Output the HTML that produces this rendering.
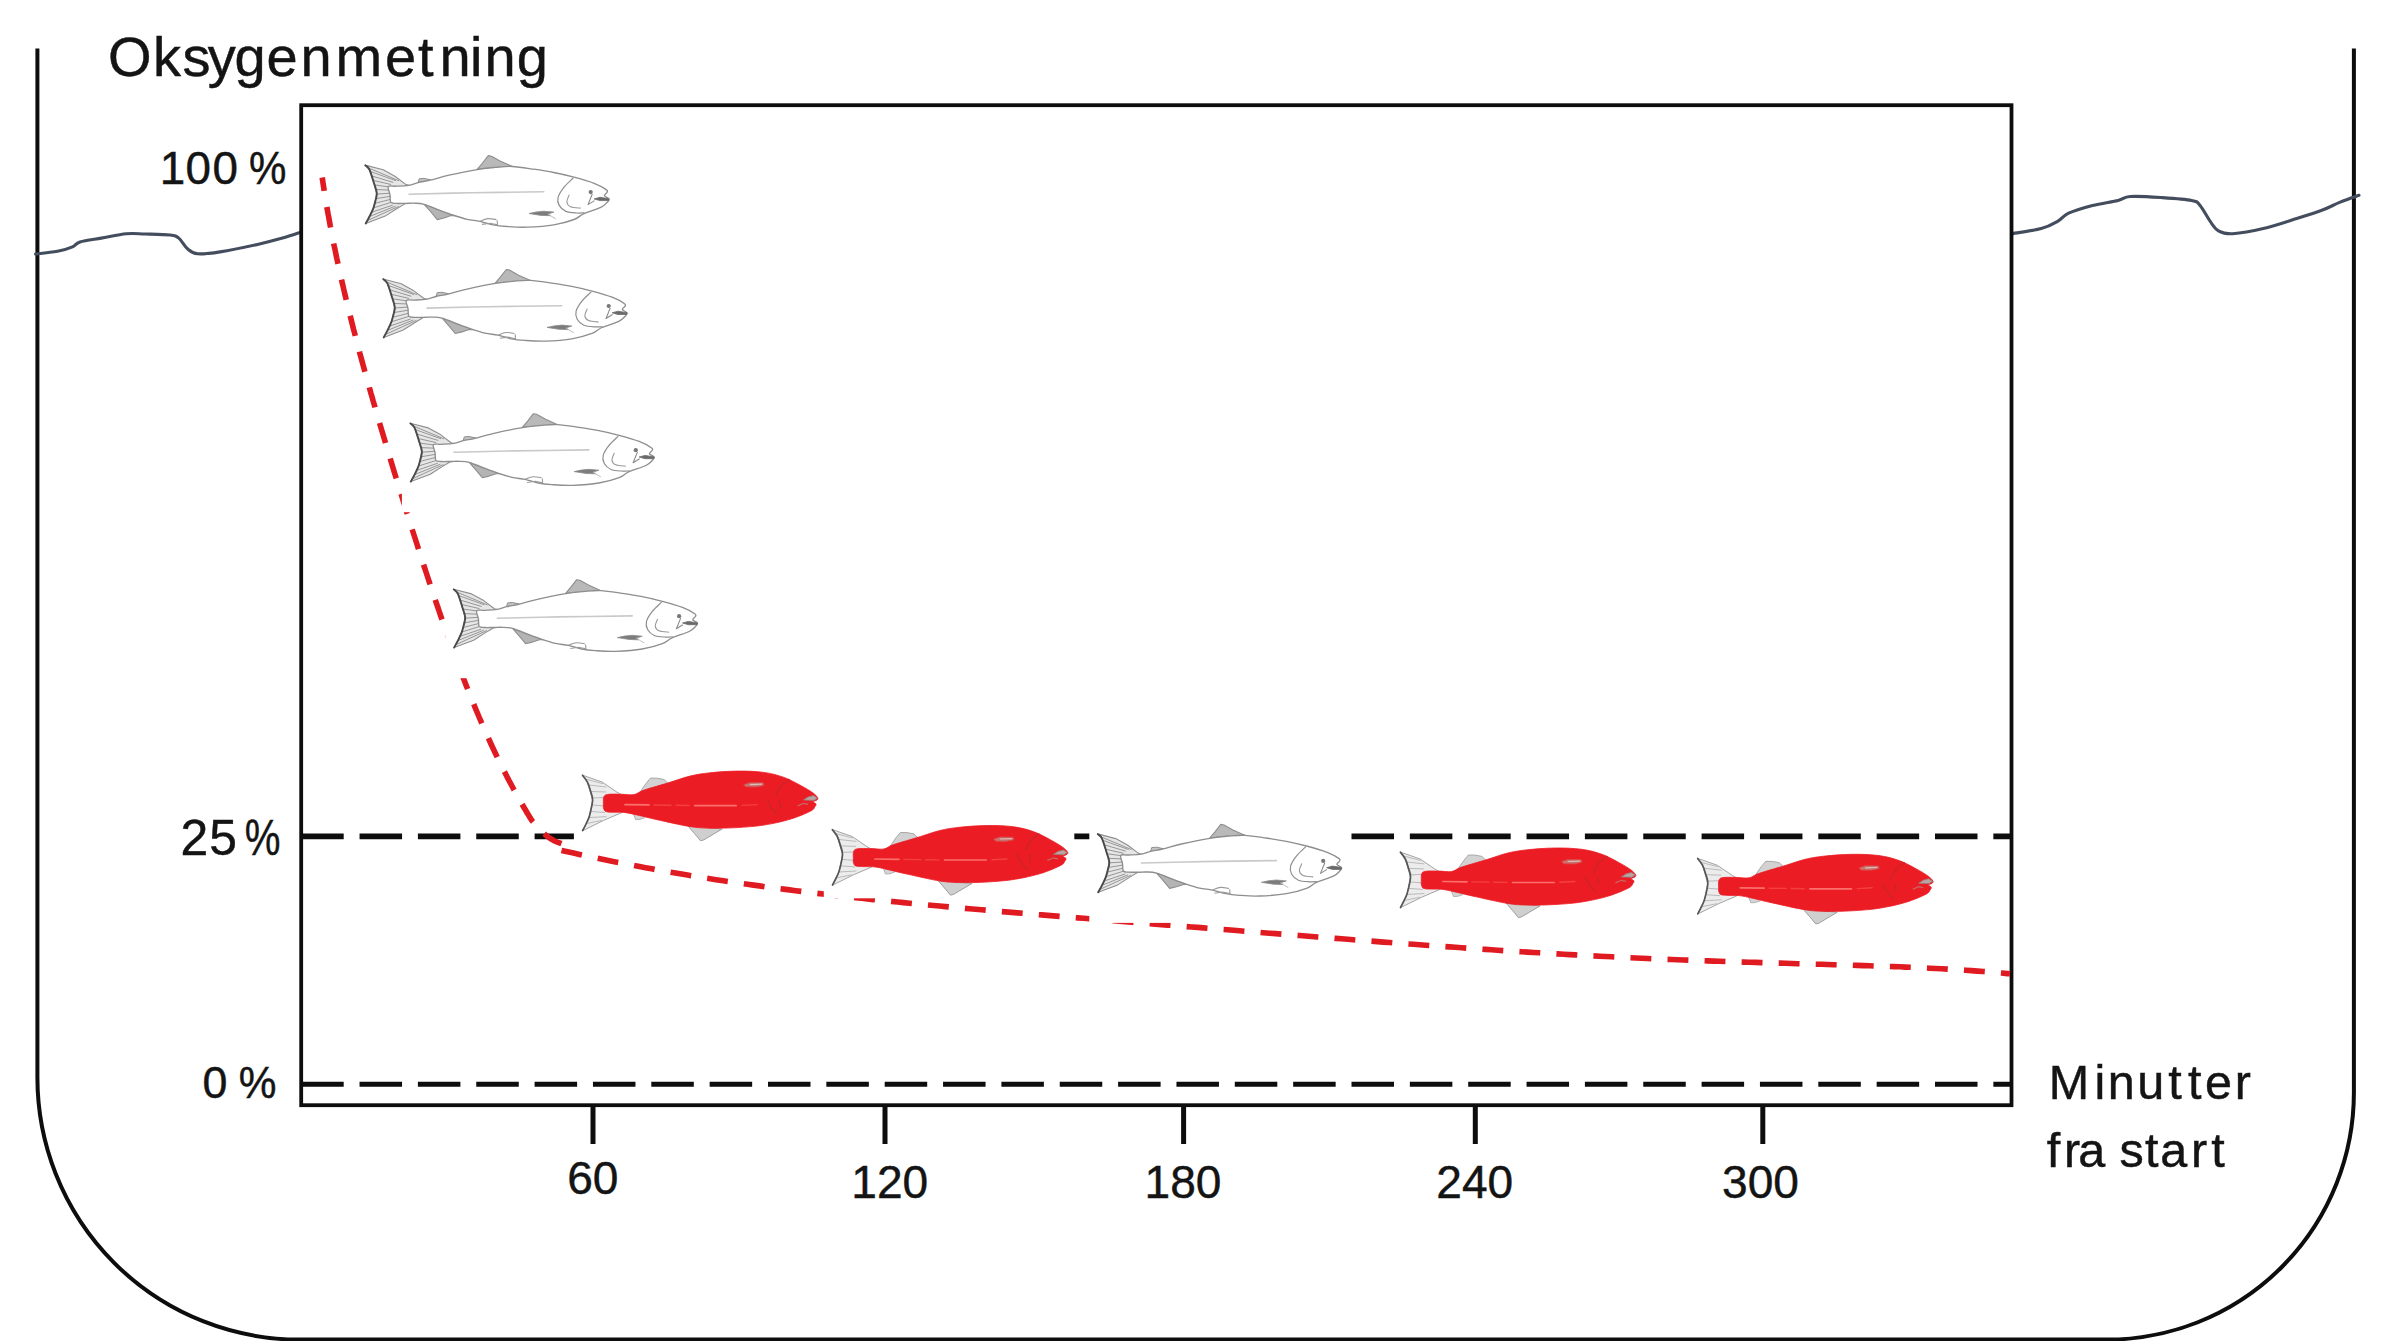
<!DOCTYPE html>
<html lang="nb">
<head>
<meta charset="utf-8">
<title>Oksygenmetning</title>
<style>
html,body{margin:0;padding:0;background:#fff;}
body{width:2400px;height:1341px;overflow:hidden;}
svg{display:block;}
text{font-family:"Liberation Sans",sans-serif;fill:#141414;stroke:#141414;stroke-width:0.45px;}
</style>
</head>
<body>
<svg width="2400" height="1341" viewBox="0 0 2400 1341">
<defs>
<g id="fo">
 <path d="M0.0,0.0L18.1,4.7L30.2,11.4L40.9,19.5L43.9,20.3L43.9,38.3L40.2,38.5L31.5,43.7L20.1,51.0L0.6,58.4L4.9,50.4L8.0,43.7L10.0,36.9L11.5,28.2L8.7,17.5L4.3,4.4Z" fill="#e6e6e6" stroke="#8e8e8e" stroke-width="1.1" stroke-linejoin="round"/>
 <path d="M2.4,2.5L33.9,15.7 M4.9,6.3L30.9,15.6 M6.5,10.8L28.2,17.3 M8.0,15.3L26.0,19.4 M9.4,19.8L24.3,21.9 M10.6,24.4L24.6,25.0 M11.5,29.0L24.8,28.1 M10.6,33.6L25.1,31.2 M9.6,38.3L25.3,34.3 M8.3,42.8L25.9,37.3 M6.4,47.2L27.6,40.0 M4.3,51.4L30.3,41.0 M2.1,55.6L33.4,41.3" fill="none" stroke="#8c8c8c" stroke-width="0.9"/>
 <path d="M0.2,0.2C0.9,0.9 2.9,1.5 4.3,4.4C5.7,7.3 7.5,13.5 8.7,17.5C9.9,21.5 11.5,25.0 11.7,28.2C11.9,31.4 10.6,34.3 10.0,36.9C9.4,39.5 8.9,41.5 8.0,43.7C7.1,46.0 6.1,48.0 4.9,50.4C3.7,52.9 1.3,57.1 0.6,58.4" fill="none" stroke="#4a4a4a" stroke-width="1.9" stroke-linecap="round"/>
 <path d="M112.1,4.2L117.4,-2.1L123.2,-9.5L126.4,-8.9L134.9,-4.1L147.5,1.5L129.9,2.5Z" fill="#b9b9b9" stroke="#8e8e8e" stroke-width="1.1" stroke-linejoin="round"/>
 <path d="M53.0,17.5L54.1,13.7L58.9,13.3L65.7,14.8L60.9,16.1Z" fill="#c4c4c4" stroke="#8e8e8e" stroke-width="1" stroke-linejoin="round"/>
 <path d="M59.0,39.2L65.4,46.4L72.1,54.5L78.9,52.9L85.9,50.5L90.2,50.6L74.9,45.2Z" fill="#b4b4b4" stroke="#8e8e8e" stroke-width="1.1" stroke-linejoin="round"/>
 <path d="M23.2,21.5C24.2,20.1 27.5,21.3 30.9,21.1C34.3,20.9 39.9,20.8 43.6,20.2C47.3,19.6 49.4,18.4 53.0,17.5C56.6,16.6 59.7,16.3 64.9,15.1C70.0,13.9 76.3,11.8 83.9,10.1C91.5,8.4 103.0,6.0 110.7,4.7C118.4,3.4 123.8,2.9 129.9,2.3C136.0,1.8 140.7,1.1 147.1,1.4C153.6,1.7 161.7,3.1 168.6,4.1C175.5,5.1 182.0,6.1 188.7,7.4C195.4,8.7 202.2,10.3 208.9,12.1C215.6,13.9 223.6,16.1 229.0,18.2C234.4,20.3 239.0,23.0 241.1,24.5C243.3,26.0 242.2,26.2 241.9,27.2C241.6,28.2 239.0,29.4 239.3,30.5C239.6,31.6 243.4,32.8 243.9,33.9C244.4,35.0 243.8,35.5 242.4,36.9C241.0,38.3 239.6,40.4 235.7,42.3C231.8,44.2 223.4,46.5 218.9,48.5C214.4,50.5 213.9,52.5 208.9,54.4C203.9,56.3 196.5,58.5 188.7,59.8C180.9,61.1 169.7,61.8 161.9,62.1C154.1,62.4 147.3,61.8 141.7,61.4C136.1,61.0 132.8,60.7 128.3,59.8C123.8,58.9 119.3,57.1 114.9,56.2C110.5,55.3 106.2,55.2 101.9,54.2C97.6,53.2 93.7,51.9 89.2,50.4C84.7,48.9 79.9,47.1 74.9,45.2C69.9,43.3 63.3,40.4 59.0,39.2C54.7,38.0 52.0,38.2 48.9,38.1C45.8,37.9 43.2,38.3 40.2,38.3C37.2,38.3 33.3,38.5 30.9,38.3C28.5,38.1 26.7,38.5 25.7,37.1C24.7,35.6 25.3,32.2 24.9,29.6C24.5,27.0 22.2,22.9 23.2,21.5Z" fill="#fff" stroke="#8e8e8e" stroke-width="1.35" stroke-linejoin="round"/>
 <path d="M43.9,29.1C54.1,28.9 82.4,28.1 104.9,27.7C127.4,27.3 166.4,26.9 178.7,26.7" fill="none" stroke="#c9c9c9" stroke-width="1.6" stroke-linecap="round"/>
 <path d="M208.1,12.9C206.6,14.5 201.3,19.0 198.8,22.2C196.3,25.4 193.8,29.2 193.0,32.2C192.2,35.2 192.8,38.0 194.1,40.3C195.4,42.7 197.8,45.0 200.8,46.3C203.8,47.6 209.1,47.7 212.2,47.9C215.3,48.1 218.2,47.7 219.4,47.7" fill="none" stroke="#8e8e8e" stroke-width="1.2"/>
 <path d="M204.2,29.6C203.8,30.8 201.6,34.9 201.8,36.9C202.0,38.9 203.2,40.6 205.5,41.6C207.8,42.6 213.9,42.8 215.6,43.0" fill="none" stroke="#9a9a9a" stroke-width="1.1"/>
 <path d="M227.2,28.9L222.9,39.5L229.4,35.5" fill="none" stroke="#8a8a8a" stroke-width="1.1" stroke-linejoin="round"/>
 <path d="M229.0,33.8L234.9,32.2L243.9,33.7L243.5,35.5L234.9,35.5Z" fill="#6a6a6a" stroke="#6a6a6a" stroke-width="0.8" stroke-linejoin="round"/>
 <circle cx="225.6" cy="27.0" r="2.1" fill="#777"/>
 <path d="M163.9,48.4L170.9,46.9L178.7,46.1L188.7,47.0L182.9,48.9L185.4,50.6L175.9,50.3Z" fill="#7c7c7c" stroke="#8a8a8a" stroke-width="0.8" stroke-linejoin="round"/>
 <path d="M182.9,48.9L186.9,51.5L190.7,53.7" fill="none" stroke="#bdbdbd" stroke-width="1"/>
 <path d="M115.4,55.9C116.6,55.5 120.2,53.7 122.9,53.5C125.6,53.3 130.0,54.3 131.4,54.5 M116.9,59.3L124.9,58.1L132.4,59.7L132.1,55.3" fill="none" stroke="#9a9a9a" stroke-width="1.1"/>
</g>

<g id="fr">
 <path d="M0.0,0.0L19.9,7.0L34.7,17.1L39.7,19.9L39.7,37.4L21.3,45.3L0.2,55.7L4.2,47.9L7.2,40.6L10.3,25.2L5.1,7.0Z" fill="#ececec" stroke="#a4a4a4" stroke-width="1" stroke-linejoin="round"/>
 <path d="M2.9,3.9L20.7,8.5 M5.9,9.9L24.2,11.9 M8.1,16.4L23.7,16.9 M9.9,22.9L22.1,22.4 M9.9,29.9L21.7,30.9 M8.3,36.4L22.7,37.4 M6.3,42.5L24.2,41.5 M3.7,48.5L19.7,45.3" fill="none" stroke="#b4b4b4" stroke-width="0.9"/>
 <path d="M0.2,0.2C1.0,1.3 3.8,4.4 5.1,7.0C6.4,9.6 7.3,12.9 8.2,15.9C9.1,18.9 10.5,21.1 10.3,25.2C10.1,29.3 8.2,36.8 7.2,40.6C6.2,44.4 5.4,45.4 4.2,47.9C3.1,50.4 1.0,54.2 0.3,55.5" fill="none" stroke="#555" stroke-width="1.7" stroke-linecap="round"/>
 <path d="M58.2,16.4L63.7,8.4L68.2,3.0L74.7,3.1L81.7,4.4L86.0,8.5Z" fill="#d2d2d2" stroke="#a8a8a8" stroke-width="1" stroke-linejoin="round"/>
 <path d="M105.7,50.9L112.2,58.4L118.3,65.7L121.7,64.7L129.7,59.9L139.9,53.9Z" fill="#cfcfcf" stroke="#a0a0a0" stroke-width="1" stroke-linejoin="round"/>
 <path d="M51.2,38.9L53.3,44.5L57.7,44.3L62.7,42.5L62.7,39.9Z" fill="#d4d4d4" stroke="#adadad" stroke-width="0.9" stroke-linejoin="round"/>
 <path d="M21.1,27.9C21.1,25.9 20.8,23.3 21.5,21.9C22.2,20.5 22.3,19.8 25.2,19.3C28.1,18.8 34.3,19.1 38.7,19.1C43.1,19.1 47.7,20.2 51.5,19.5C55.3,18.8 55.3,17.2 61.5,15.1C67.7,13.0 80.7,9.4 88.4,7.0C96.1,4.6 101.1,2.6 107.7,1.0C114.3,-0.6 120.0,-1.5 127.8,-2.3C135.6,-3.1 145.8,-3.9 154.7,-4.0C163.7,-4.1 173.7,-3.8 181.5,-2.7C189.3,-1.7 195.6,0.1 201.7,2.3C207.9,4.5 213.7,7.9 218.4,10.4C223.2,12.9 227.4,15.5 230.2,17.5C233.0,19.5 234.6,21.3 235.3,22.5C236.1,23.7 235.4,24.2 234.7,24.9C234.0,25.6 231.1,26.0 230.9,26.7C230.7,27.4 233.4,28.1 233.7,28.9C234.0,29.7 233.6,30.3 232.7,31.5C231.8,32.7 232.5,33.8 228.5,35.9C224.5,38.0 216.2,41.6 208.4,44.0C200.6,46.4 190.5,48.6 181.5,50.0C172.5,51.4 163.7,52.0 154.7,52.5C145.8,53.0 135.6,53.3 127.8,53.1C120.0,52.9 116.5,52.9 107.7,51.5C98.9,50.1 83.7,46.5 74.9,44.6C66.1,42.7 60.4,41.1 54.8,39.9C49.2,38.7 46.3,37.8 41.4,37.3C36.5,36.8 28.5,37.4 25.2,36.8C21.9,36.2 22.2,35.4 21.5,33.9C20.8,32.4 21.1,29.9 21.1,27.9Z" fill="#ec1c24" stroke="#ec1c24" stroke-width="0.8" stroke-linejoin="round"/>
 <path d="M42.7,29.5L66.7,29.8 M112.4,30.5L154.0,30.5" fill="none" stroke="#fb6f6c" stroke-width="1.7" stroke-linecap="round"/>
 <path d="M71.7,29.9L88.7,30.1 M159.7,30.3L174.7,29.5 M93.7,30.2L106.7,30.4" fill="none" stroke="#f3403f" stroke-width="1.4" stroke-linecap="round"/>
 <path d="M184.7,24.4C185.5,25.8 187.5,30.4 189.2,32.9C191.0,35.4 194.2,38.3 195.2,39.4 M197.0,24.9L198.5,32.4 M206.7,4.4C205.4,5.5 201.0,8.1 198.7,10.9C196.5,13.6 194.1,19.2 193.2,20.9" fill="none" stroke="#c8262a" stroke-width="1.3" stroke-linecap="round"/>
 <path d="M161.4,9.7L167.7,7.5L180.9,7.7L181.7,10.3L173.7,11.9L163.7,11.7Z" fill="#c9746f" stroke="#d84a48" stroke-width="0.9" stroke-linejoin="round"/>
 <path d="M167.7,9.5L179.7,9.1" stroke="#dcbcb8" stroke-width="1.2" fill="none"/>
 <path d="M221.2,24.9L225.7,21.9L231.2,20.5L235.1,22.9L231.7,25.3L226.2,25.1Z" fill="#b9a4a2" stroke="#9a7c7a" stroke-width="0.8" stroke-linejoin="round"/>
 <path d="M215.2,30.9L221.2,28.3L225.7,29.3" fill="none" stroke="#c46a66" stroke-width="1.2"/>
</g>
</defs>
<rect width="2400" height="1341" fill="#fff"/>
<!-- vessel -->
<path d="M37.4,48.4V1077.6A262,262 0 0 0 299.4,1339.6H2106.9A247,247 0 0 0 2353.9,1092.6V48.4" fill="none" stroke="#0d0d0d" stroke-width="4"/>
<!-- water line -->
<path d="M35.5,254.0C39.2,253.6 51.3,252.5 57.5,251.3C63.7,250.1 68.8,248.5 72.5,246.9C76.2,245.3 75.2,243.4 80.0,241.9C84.8,240.4 93.6,239.4 101.3,238.1C109.0,236.8 119.0,234.5 126.3,233.8C133.6,233.1 137.7,233.8 145.0,234.0C152.3,234.2 164.4,234.3 170.0,235.0C175.6,235.7 175.9,235.8 178.8,238.1C181.7,240.4 184.4,246.2 187.5,248.8C190.6,251.4 192.1,253.3 197.5,253.8C202.9,254.3 210.0,253.5 220.0,251.9C230.0,250.3 247.1,246.7 257.5,244.4C267.9,242.1 274.8,240.3 282.5,238.1C290.2,235.9 300.4,232.3 304.0,231.2" fill="none" stroke="#434d5e" stroke-width="3.1" stroke-linecap="round"/>
<path d="M2010.5,233.9C2015.6,233.0 2033.2,230.8 2041.2,228.6C2049.2,226.4 2053.7,223.5 2058.3,220.9C2062.9,218.3 2062.9,215.8 2068.6,213.2C2074.3,210.6 2084.2,207.6 2092.5,205.5C2100.8,203.4 2111.8,201.9 2118.1,200.4C2124.4,198.9 2123.0,197.0 2130.1,196.5C2137.2,196.0 2150.6,196.8 2160.8,197.5C2171.1,198.2 2185.1,199.1 2191.6,200.4C2198.1,201.7 2197.0,201.9 2200.1,205.5C2203.2,209.1 2207.3,217.4 2210.4,221.7C2213.5,226.0 2215.2,229.1 2218.9,231.1C2222.6,233.1 2225.2,234.1 2232.6,233.7C2240.0,233.3 2252.5,231.2 2263.3,228.6C2274.1,226.0 2287.5,221.4 2297.5,218.3C2307.5,215.2 2316.0,212.5 2323.1,209.8C2330.2,207.1 2334.2,204.5 2340.2,202.1C2346.2,199.7 2355.9,196.4 2359.0,195.3" fill="none" stroke="#434d5e" stroke-width="3.1" stroke-linecap="round"/>
<!-- chart frame -->
<rect x="301.2" y="105.2" width="1710.3" height="1000" fill="#fff" stroke="#0d0d0d" stroke-width="3.8"/>
<line x1="593.0" y1="1105" x2="593.0" y2="1144" stroke="#0d0d0d" stroke-width="5"/><line x1="885.0" y1="1105" x2="885.0" y2="1144" stroke="#0d0d0d" stroke-width="5"/><line x1="1183.6" y1="1105" x2="1183.6" y2="1144" stroke="#0d0d0d" stroke-width="5"/><line x1="1475.3" y1="1105" x2="1475.3" y2="1144" stroke="#0d0d0d" stroke-width="5"/><line x1="1762.8" y1="1105" x2="1762.8" y2="1144" stroke="#0d0d0d" stroke-width="5"/>
<!-- dashed reference lines -->
<line x1="301.2" y1="836.4" x2="2011" y2="836.4" stroke="#0d0d0d" stroke-width="5.8" stroke-dasharray="42.5 15.85"/>
<line x1="301.2" y1="1084.2" x2="2011" y2="1084.2" stroke="#0d0d0d" stroke-width="5" stroke-dasharray="42.5 15.85"/>
<!-- oxygen curve -->
<path d="M322.2,177.5L322.8,181.5L323.4,185.5L324.0,189.5L324.6,193.5L325.3,197.5L326.0,201.5L326.6,205.5L327.3,209.5L328.0,213.5L328.8,217.5L329.5,221.5L330.2,225.5L331.0,229.5L331.8,233.5L332.5,237.5L333.3,241.5L334.1,245.5L335.0,249.5L335.8,253.5L336.6,257.5L337.5,261.5L338.4,265.5L339.2,269.5L340.1,273.5L341.0,277.5L341.9,281.5L342.9,285.5L343.8,289.5L344.7,293.5L345.7,297.5L346.6,301.5L347.6,305.5L348.6,309.5L349.6,313.5L350.6,317.5L351.6,321.5L352.6,325.5L353.6,329.5L354.7,333.5L355.7,337.5L356.7,341.5L357.8,345.5L358.9,349.5L359.9,353.5L361.0,357.5L362.1,361.5L363.2,365.5L364.3,369.5L365.4,373.5L366.5,377.5L367.6,381.5L368.8,385.5L369.9,389.5L371.0,393.5L372.2,397.5L373.3,401.5L374.5,405.5L375.6,409.5L376.8,413.5L378.0,417.5L379.1,421.5L380.3,425.5L381.5,429.5L382.7,433.5L383.9,437.5L385.1,441.5L386.2,445.5L387.5,449.5L388.7,453.5L389.9,457.5L391.1,461.5L392.3,465.5L393.5,469.5L394.7,473.5L396.0,477.5L397.2,481.5L398.4,485.5L399.7,489.5L400.9,493.5L402.2,497.5L403.4,501.5L404.7,505.5L405.9,509.5L407.2,513.5L408.4,517.5L409.7,521.5L411.0,525.5L412.2,529.5L413.5,533.5L414.8,537.5L416.1,541.5L417.4,545.5L418.6,549.5L419.9,553.5L421.2,557.5L422.5,561.5L423.8,565.5L425.2,569.5L426.5,573.5L427.8,577.5L429.1,581.5L430.5,585.5L431.8,589.5L433.1,593.5L434.5,597.5L435.8,601.5L437.2,605.5L438.6,609.5L439.9,613.5L441.3,617.5L442.7,621.5L444.1,625.5L445.5,629.5L446.9,633.5L448.3,637.5L449.8,641.5L451.2,645.5L452.7,649.5L454.1,653.5L455.6,657.5L457.1,661.5L458.6,665.5L460.1,669.5L461.6,673.5L463.1,677.5L464.7,681.5L466.2,685.5L467.8,689.5L469.4,693.5L471.0,697.5L472.6,701.5L474.3,705.5L475.9,709.5L477.6,713.5L479.3,717.5L481.0,721.5L482.7,725.5L484.5,729.5L486.3,733.5L488.1,737.5L489.9,741.5L491.7,745.5L493.6,749.5L495.5,753.5L497.4,757.5L499.4,761.5L501.3,765.5L503.3,769.5L505.4,773.5L507.4,777.5L509.5,781.5L511.7,785.5L513.8,789.5L516.0,793.5L518.2,797.5L520.5,801.5L522.8,805.5L525.2,809.5L527.5,813.5L527.8,813.9L528.2,814.5L528.6,815.2L529.1,816.0L529.5,816.8L530.0,817.5L530.4,818.1L530.7,818.7L531.1,819.3L531.6,820.0L532.1,820.7L532.7,821.5L533.5,822.4L534.4,823.5L535.4,824.6L536.5,825.8L537.5,826.9L538.5,828.0L539.5,829.0L540.4,830.0L541.4,831.0L542.3,831.9L543.2,832.8L544.1,833.6L544.9,834.3L545.7,835.0L546.4,835.6L547.1,836.1L547.8,836.7L548.5,837.2L549.2,837.7L549.9,838.2L550.6,838.6L551.3,839.1L552.0,839.5L552.7,839.9L553.4,840.3L554.1,840.7L554.8,841.0L555.5,841.4L556.3,841.7L557.0,842.0L557.8,842.3L558.7,842.6L559.5,842.9L560.3,843.2L561.0,843.4L561.5,843.6" fill="none" stroke="#e01a21" stroke-width="5.6" stroke-linejoin="round" stroke-dasharray="20.80 16.28" stroke-dashoffset="7.21"/>
<path d="M561.5,850.4L567.5,851.8L573.5,853.1L579.5,854.4L585.5,855.7L591.5,857.0L597.5,858.3L603.5,859.5L609.5,860.7L615.5,861.9L621.5,863.1L627.5,864.3L633.5,865.4L639.5,866.6L645.5,867.7L651.5,868.8L657.5,869.9L663.5,871.0L669.5,872.0L675.5,873.0L681.5,874.1L687.5,875.1L693.5,876.1L699.5,877.0L705.5,878.0L711.5,878.9L717.5,879.9L723.5,880.8L729.5,881.7L735.5,882.6L741.5,883.4L747.5,884.3L753.5,885.1L759.5,885.9L765.5,886.8L771.5,887.6L777.5,888.4L783.5,889.1L789.5,889.9L795.5,890.7L801.5,891.4L807.5,892.1L813.5,892.9L819.5,893.6L825.5,894.3L831.5,895.0L837.5,895.7L843.5,896.3L849.5,897.0L855.5,897.7L861.5,898.3L867.5,898.9L873.5,899.6L879.5,900.2L885.5,900.8L891.5,901.4L897.5,902.0L903.5,902.6L909.5,903.2L915.5,903.8L921.5,904.4L927.5,904.9L933.5,905.5L939.5,906.0L945.5,906.6L951.5,907.1L957.5,907.7L963.5,908.2L969.5,908.8L975.5,909.3L981.5,909.8L987.5,910.3L993.5,910.9L999.5,911.4L1005.5,911.9L1011.5,912.4L1017.5,912.9L1023.5,913.4L1029.5,913.9L1035.5,914.4L1041.5,914.9L1047.5,915.4L1053.5,915.9L1059.5,916.4L1065.5,916.9L1071.5,917.4L1077.5,917.9L1083.5,918.3L1089.5,918.8L1095.5,919.3L1101.5,919.8L1107.5,920.3L1113.5,920.8L1119.5,921.2L1125.5,921.7L1131.5,922.2L1137.5,922.7L1143.5,923.2L1149.5,923.6L1155.5,924.1L1161.5,924.6L1167.5,925.1L1173.5,925.5L1179.5,926.0L1185.5,926.5L1191.5,927.0L1197.5,927.4L1203.5,927.9L1209.5,928.4L1215.5,928.9L1221.5,929.4L1227.5,929.8L1233.5,930.3L1239.5,930.8L1245.5,931.3L1251.5,931.7L1257.5,932.2L1263.5,932.7L1269.5,933.2L1275.5,933.6L1281.5,934.1L1287.5,934.6L1293.5,935.1L1299.5,935.5L1305.5,936.0L1311.5,936.5L1317.5,937.0L1323.5,937.4L1329.5,937.9L1335.5,938.4L1341.5,938.8L1347.5,939.3L1353.5,939.8L1359.5,940.2L1365.5,940.7L1371.5,941.1L1377.5,941.6L1383.5,942.1L1389.5,942.5L1395.5,943.0L1401.5,943.4L1407.5,943.9L1413.5,944.3L1419.5,944.7L1425.5,945.2L1431.5,945.6L1437.5,946.0L1443.5,946.5L1449.5,946.9L1455.5,947.3L1461.5,947.7L1467.5,948.2L1473.5,948.6L1479.5,949.0L1485.5,949.4L1491.5,949.8L1497.5,950.2L1503.5,950.6L1509.5,951.0L1515.5,951.4L1521.5,951.7L1527.5,952.1L1533.5,952.5L1539.5,952.8L1545.5,953.2L1551.5,953.6L1557.5,953.9L1563.5,954.2L1569.5,954.6L1575.5,954.9L1581.5,955.3L1587.5,955.6L1593.5,955.9L1599.5,956.2L1605.5,956.5L1611.5,956.8L1617.5,957.1L1623.5,957.4L1629.5,957.7L1635.5,958.0L1641.5,958.2L1647.5,958.5L1653.5,958.8L1659.5,959.0L1665.5,959.3L1671.5,959.5L1677.5,959.7L1683.5,960.0L1689.5,960.2L1695.5,960.4L1701.5,960.7L1707.5,960.9L1713.5,961.1L1719.5,961.3L1725.5,961.5L1731.5,961.7L1737.5,961.9L1743.5,962.1L1749.5,962.3L1755.5,962.4L1761.5,962.6L1767.5,962.8L1773.5,963.0L1779.5,963.1L1785.5,963.3L1791.5,963.5L1797.5,963.7L1803.5,963.8L1809.5,964.0L1815.5,964.2L1821.5,964.3L1827.5,964.5L1833.5,964.7L1839.5,964.8L1845.5,965.0L1851.5,965.2L1857.5,965.4L1863.5,965.6L1869.5,965.8L1875.5,966.0L1881.5,966.2L1887.5,966.4L1893.5,966.6L1899.5,966.8L1905.5,967.1L1911.5,967.3L1917.5,967.6L1923.5,967.9L1929.5,968.2L1935.5,968.5L1941.5,968.8L1947.5,969.1L1953.5,969.5L1959.5,969.8L1965.5,970.2L1971.5,970.6L1977.5,971.1L1983.5,971.5L1989.5,972.0L1995.5,972.5L2001.5,973.0L2007.5,973.6L2010.0,973.8" fill="none" stroke="#e01a21" stroke-width="5.6" stroke-linejoin="round" stroke-dasharray="20.90 16.18"/>
<!-- fish -->
<rect x="356.8" y="143.1" width="261.7" height="111" fill="#fff"/>
<rect x="374.8" y="257.0" width="261.7" height="111" fill="#fff"/>
<rect x="401.9" y="401.2" width="261.7" height="111" fill="#fff"/>
<rect x="445.2" y="567.2" width="261.7" height="111" fill="#fff"/>
<rect x="1089.3" y="811.9" width="261.7" height="111" fill="#fff"/>
<rect x="573.9" y="765.1" width="250.5" height="78.8" fill="#fff"/>
<rect x="823.8" y="819.5" width="250.5" height="78.8" fill="#fff"/>
<rect x="1391.8" y="842.0" width="250.5" height="78.8" fill="#fff"/>
<rect x="1689.1" y="848.3" width="250.5" height="78.8" fill="#fff"/>
<use href="#fo" x="365.1" y="165.1"/>
<use href="#fo" x="383.1" y="279.0"/>
<use href="#fo" x="410.2" y="423.2"/>
<use href="#fo" x="453.5" y="589.2"/>
<use href="#fo" x="1097.6" y="833.9"/>
<use href="#fr" x="582.3" y="775.1"/>
<use href="#fr" x="832.2" y="829.5"/>
<use href="#fr" x="1400.2" y="852.0"/>
<use href="#fr" x="1697.5" y="858.3"/>

<!-- labels -->
<text x="108.0 153.1 182.5 207.7 234.6 266.6 300.5 335.4 384.9 417.9 439.5 470.0 484.5 516.8" y="75.7" font-size="56">Oksygenmetning</text>
<text y="183.6" font-size="45.8"><tspan x="159.8 185.4 212.4 237.9">100 </tspan><tspan x="249.1" textLength="37.4" lengthAdjust="spacingAndGlyphs">%</tspan></text>
<text y="855.1" font-size="49.8"><tspan x="180.5 209.3 237.0">25 </tspan><tspan x="244.8" textLength="35.7" lengthAdjust="spacingAndGlyphs">%</tspan></text>
<text y="1098.3" font-size="44.8"><tspan x="202.4 227.3">0 </tspan><tspan x="238.8" textLength="37.7" lengthAdjust="spacingAndGlyphs">%</tspan></text>
<text x="567.2" y="1193.9" font-size="46.1">60</text>
<text x="851.25" y="1197.9" font-size="46.1">120</text>
<text x="1144.6" y="1197.9" font-size="46.1">180</text>
<text x="1436.3" y="1197.9" font-size="46.1">240</text>
<text x="1722.1" y="1197.9" font-size="46.1">300</text>
<text x="2048.8 2094.6 2107.8 2137.3 2168.3 2187.9 2205.1 2234.7" y="1098.6" font-size="48.5">Minutter</text>
<text x="2046.8 2064.0 2078.2 2105.2 2119.5 2144.9 2160.2 2190.9 2211.3" y="1166.7" font-size="48.5">fra start</text>
</svg>
</body>
</html>
